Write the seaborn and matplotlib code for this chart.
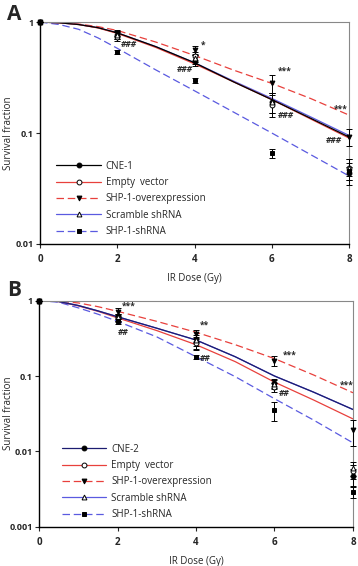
import numpy as np
import pandas as pd
import matplotlib
matplotlib.use("Agg")
import matplotlib.pyplot as plt
import seaborn as sns
from matplotlib.lines import Line2D

# DATA
dose = [0, 2, 4, 6, 8]
curve_dose = [0, 0.5, 1, 1.5, 2, 3, 4, 5, 6, 7, 8]
labels_a = ['CNE-1', 'Empty  vector', 'SHP-1-overexpression', 'Scramble shRNA', 'SHP-1-shRNA']
labels_b = ['CNE-2', 'Empty  vector', 'SHP-1-overexpression', 'Scramble shRNA', 'SHP-1-shRNA']

# panel A measured points (mean, sd)
a_cne = [1, 0.77, 0.45, 0.19, 0.044]
a_empty = [1, 0.74, 0.49, 0.18, 0.048]
a_over = [1, 0.80, 0.56, 0.28, 0.093]
a_scr = [1, 0.76, 0.47, 0.19, 0.048]
a_sh = [1, 0.54, 0.30, 0.066, 0.045]
a_cne_err = [0, 0.06, 0.05, 0.04, 0.01]
a_empty_err = [0, 0.07, 0.05, 0.04, 0.01]
a_over_err = [0, 0.05, 0.05, 0.05, 0.016]
a_scr_err = [0, 0.05, 0.05, 0.04, 0.01]
a_sh_err = [0, 0.02, 0.015, 0.006, 0.004]

# panel A fitted curves
a_cne_fit = [1, 0.985, 0.95, 0.89, 0.80, 0.60, 0.43, 0.29, 0.20, 0.136, 0.092]
a_empty_fit = [1, 0.985, 0.95, 0.885, 0.79, 0.59, 0.42, 0.29, 0.20, 0.134, 0.090]
a_over_fit = [1, 0.99, 0.96, 0.91, 0.84, 0.66, 0.50, 0.37, 0.28, 0.205, 0.145]
a_scr_fit = [1, 0.985, 0.95, 0.89, 0.80, 0.60, 0.43, 0.295, 0.205, 0.14, 0.095]
a_sh_fit = [1, 0.95, 0.86, 0.72, 0.58, 0.37, 0.24, 0.155, 0.10, 0.064, 0.041]

# panel B measured points
b_cne = [1, 0.60, 0.28, 0.080, 0.0047]
b_empty = [1, 0.58, 0.27, 0.072, 0.0055]
b_over = [1, 0.71, 0.36, 0.16, 0.019]
b_scr = [1, 0.60, 0.30, 0.078, 0.0060]
b_sh = [1, 0.53, 0.18, 0.035, 0.0029]
b_cne_err = [0, 0.06, 0.05, 0.01, 0.0012]
b_empty_err = [0, 0.06, 0.05, 0.01, 0.0012]
b_over_err = [0, 0.08, 0.05, 0.025, 0.007]
b_scr_err = [0, 0.06, 0.05, 0.01, 0.0012]
b_sh_err = [0, 0.04, 0.01, 0.01, 0.0005]

# panel B fitted curves
b_cne_fit = [1, 0.97, 0.86, 0.73, 0.61, 0.43, 0.30, 0.18, 0.10, 0.061, 0.036]
b_empty_fit = [1, 0.97, 0.85, 0.72, 0.59, 0.40, 0.26, 0.155, 0.083, 0.048, 0.027]
b_over_fit = [1, 0.98, 0.93, 0.83, 0.72, 0.53, 0.38, 0.26, 0.17, 0.103, 0.060]
b_scr_fit = [1, 0.97, 0.86, 0.73, 0.61, 0.43, 0.30, 0.18, 0.10, 0.061, 0.036]
b_sh_fit = [1, 0.95, 0.80, 0.66, 0.53, 0.33, 0.18, 0.098, 0.050, 0.026, 0.013]

# significance marks: (x, y, text)
a_marks = [(2.1, 0.63, '###'), (4.15, 0.62, '*'), (3.55, 0.37, '###'), (6.15, 0.36, '***'),
           (6.15, 0.143, '###'), (7.6, 0.165, '***'), (7.4, 0.085, '###')]
b_marks = [(2.1, 0.85, '***'), (2.0, 0.38, '##'), (4.1, 0.47, '**'), (4.1, 0.17, '##'),
           (6.2, 0.19, '***'), (6.1, 0.058, '##'), (7.65, 0.075, '***')]

RED = '#e8403c'
BLUE = '#5a5ae0'
NAVY = '#1c1c70'


def make_styles(first_color):
    return [
        dict(color=first_color, ls='-', marker='o', mfc='black'),
        dict(color=RED, ls='-', marker='o', mfc='white'),
        dict(color=RED, ls=(0, (6, 3)), marker='v', mfc='black'),
        dict(color=BLUE, ls='-', marker='^', mfc='white'),
        dict(color=BLUE, ls=(0, (6, 3)), marker='s', mfc='black'),
    ]


sns.set_style("white")
plt.rcParams['font.family'] = ['Open Sans', 'DejaVu Sans']

fig = plt.figure(figsize=(3.58, 5.66), dpi=100)
axA = fig.add_axes([0.112, 0.569, 0.863, 0.392])
axB = fig.add_axes([0.109, 0.069, 0.877, 0.400])


def draw_panel(ax, fits, pts, errs, labels, marks, ymin, yticks, yticklabels,
               styles, order, label_x, leg_x):
    for i in order:
        st = styles[i]
        sns.lineplot(x=curve_dose, y=fits[i], ax=ax, color=st['color'], linestyle=st['ls'],
                     lw=0.9, zorder=2)
    for p, e, st in zip(pts, errs, styles):
        ax.errorbar(dose, p, yerr=e, fmt=st['marker'], color='black', mfc=st['mfc'],
                    mec='black', ms=3.5, mew=0.7, elinewidth=0.7, capsize=2.5,
                    capthick=0.7, clip_on=False, zorder=4)
    for x, y, t in marks:
        ax.text(x, y, t, fontsize=6, fontweight='bold', fontstyle='italic' if '#' in t else 'normal',
                ha='left', va='center', zorder=5)
    ax.set_yscale('log')
    ax.set_xlim(0, 8)
    ax.set_ylim(ymin, 1)
    ax.set_xticks([0, 2, 4, 6, 8])
    ax.set_xticklabels(['0', '2', '4', '6', '8'], fontsize=7, fontweight='bold')
    ax.set_yticks(yticks)
    ax.set_yticklabels(yticklabels, fontsize=6.5, fontweight='bold')
    ax.yaxis.set_minor_locator(matplotlib.ticker.NullLocator())
    ax.tick_params(axis='both', which='major', length=3, width=0.8, direction='out',
                   left=True, bottom=True, pad=1.5)
    ax.tick_params(axis='x', pad=4)
    ax.set_xlabel('IR Dose (Gy)', fontsize=7, labelpad=6)
    ax.set_ylabel('Survival fraction', fontsize=7)
    ax.yaxis.set_label_coords(label_x, 0.5)
    for side in ['left', 'bottom']:
        ax.spines[side].set_color('black')
        ax.spines[side].set_linewidth(1.0)
    for side in ['top', 'right']:
        ax.spines[side].set_color('#888888')
        ax.spines[side].set_linewidth(0.8)
    handles = [Line2D([], [], color=st['color'], ls=st['ls'], lw=0.9, marker=st['marker'],
                      mfc=st['mfc'], mec='black', ms=3.5, mew=0.7) for st in styles]
    ax.legend(handles, labels, loc='lower left', bbox_to_anchor=(leg_x, 0.0), frameon=False,
              fontsize=7, handlelength=4.6, handletextpad=0.5, labelspacing=0.55,
              borderaxespad=0.3)


draw_panel(axA, [a_cne_fit, a_empty_fit, a_over_fit, a_scr_fit, a_sh_fit],
           [a_cne, a_empty, a_over, a_scr, a_sh],
           [a_cne_err, a_empty_err, a_over_err, a_scr_err, a_sh_err],
           labels_a, a_marks, 0.01, [0.01, 0.1, 1], ['0.01', '0.1', '1'],
           make_styles('black'), [4, 2, 3, 1, 0], -0.083, 0.03)
draw_panel(axB, [b_cne_fit, b_empty_fit, b_over_fit, b_scr_fit, b_sh_fit],
           [b_cne, b_empty, b_over, b_scr, b_sh],
           [b_cne_err, b_empty_err, b_over_err, b_scr_err, b_sh_err],
           labels_b, b_marks, 0.001, [0.001, 0.01, 0.1, 1], ['0.001', '0.01', '0.1', '1'],
           make_styles(NAVY), [4, 2, 1, 3, 0], -0.079, 0.05)

fig.text(0.02, 0.975, 'A', fontsize=15, fontweight='bold', va='center', ha='left')
fig.text(0.02, 0.487, 'B', fontsize=15, fontweight='bold', va='center', ha='left')

plt.savefig('out.png', dpi=100)
